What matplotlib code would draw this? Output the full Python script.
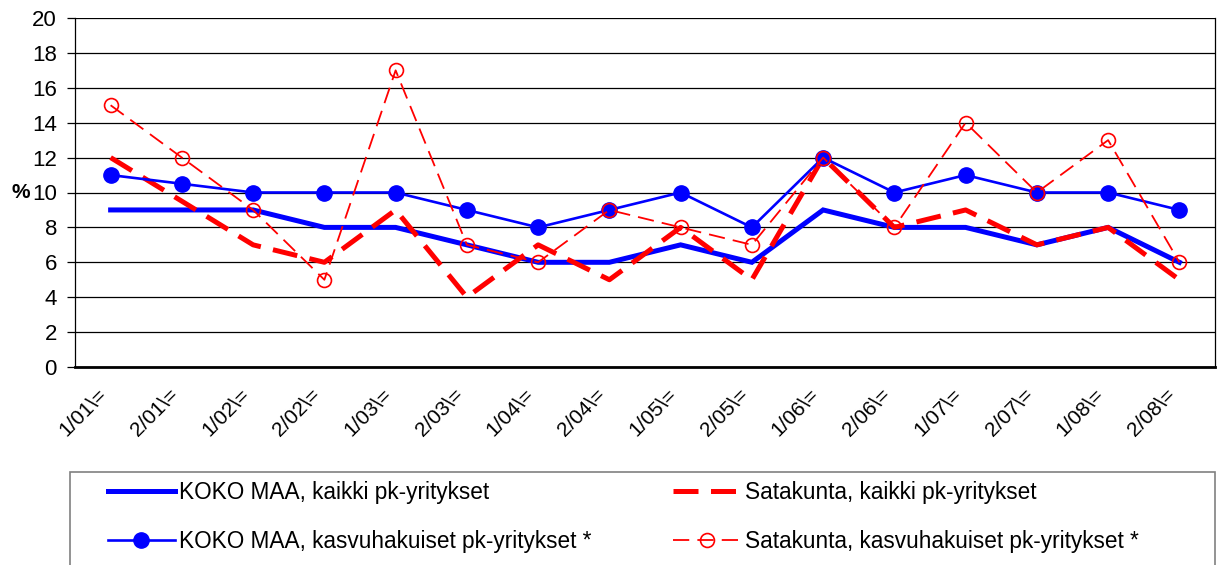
import matplotlib
matplotlib.use("Agg")
import matplotlib.pyplot as plt
from matplotlib.patches import Rectangle
from matplotlib.transforms import ScaledTranslation

plt.rcParams['font.family'] = ['Liberation Sans', 'DejaVu Sans']

categories = ["1/01\\=", "2/01\\=", "1/02\\=", "2/02\\=", "1/03\\=", "2/03\\=", "1/04\\=", "2/04\\=",
              "1/05\\=", "2/05\\=", "1/06\\=", "2/06\\=", "1/07\\=", "2/07\\=", "1/08\\=", "2/08\\="]
koko_kaikki = [9, 9, 9, 8, 8, 7, 6, 6, 7, 6, 9, 8, 8, 7, 8, 6]
sata_kaikki = [12, 9.5, 7, 6, 9, 4, 7, 5, 8, 5, 12, 8, 9, 7, 8, 5]
koko_kasvu = [11, 10.5, 10, 10, 10, 9, 8, 9, 10, 8, 12, 10, 11, 10, 10, 9]
sata_kasvu = [15, 12, 9, 5, 17, 7, 6, 9, 8, 7, 12, 8, 14, 10, 13, 6]
labels = ["KOKO MAA, kaikki pk-yritykset", "Satakunta, kaikki pk-yritykset",
          "KOKO MAA, kasvuhakuiset pk-yritykset *", "Satakunta, kasvuhakuiset pk-yritykset *"]

fig = plt.figure(figsize=(12.2, 5.65), dpi=100)
ax = fig.add_axes([75/1220, 1-367/565, (1215-75)/1220, (367-18)/565])
x = list(range(len(categories)))

for v in range(0, 21, 2):
    ax.axhline(v, color='black', lw=0.9, zorder=1)

l1, = ax.plot(x, koko_kaikki, color='#0000FF', lw=3.6, solid_joinstyle='miter', zorder=3)
l2, = ax.plot(x, sata_kaikki, color='#FF0000', lw=3.6, dashes=(5, 2.5), zorder=4)
l3, = ax.plot(x, koko_kasvu, color='#0000FF', lw=1.9, marker='o', markersize=11, zorder=5)
l4, = ax.plot(x, sata_kasvu, color='#FF0000', lw=1.3, dashes=(9, 4.5), marker='o', markersize=10,
              mfc='none', mec='#FF0000', mew=1.2, zorder=6)

ax.set_xlim(-0.5, 15.5)
ax.set_ylim(0, 20)
ax.set_yticks(range(0, 21, 2))
ax.set_xticks(x)
ax.set_xticklabels(categories, rotation=45, ha='right', va='top')
off = ScaledTranslation(-6/100, 0, fig.dpi_scale_trans)
for lab in ax.get_xticklabels():
    lab.set_transform(lab.get_transform() + off)
ax.tick_params(axis='x', length=0, pad=13, labelsize=15)
ax.tick_params(axis='y', length=6, width=0.9, labelsize=16, pad=7, direction='out')
ax.spines['top'].set_visible(False)
ax.spines['left'].set_linewidth(0.9)
ax.spines['right'].set_linewidth(0.9)
ax.spines['bottom'].set_linewidth(2)
fig.text(21/1220, 1-192/565, '%', fontsize=15, fontweight='bold', ha='center', va='center')

fig.patches.append(Rectangle((70/1220, -0.1), (1215-70)/1220, 0.1 + (565-472)/565,
                             transform=fig.transFigure, fill=False, edgecolor='#808080', lw=1.2))
leg = fig.legend([l1, l3, l2, l4], [labels[0], labels[2], labels[1], labels[3]], ncol=2,
                 loc='upper left', bbox_to_anchor=(108/1220, 1-481/565), frameon=False,
                 borderpad=0, borderaxespad=0,
                 fontsize=16.3, handlelength=2.95, handletextpad=0.2, columnspacing=3.6,
                 labelspacing=1.15)

fig.savefig('out.png', dpi=100)
